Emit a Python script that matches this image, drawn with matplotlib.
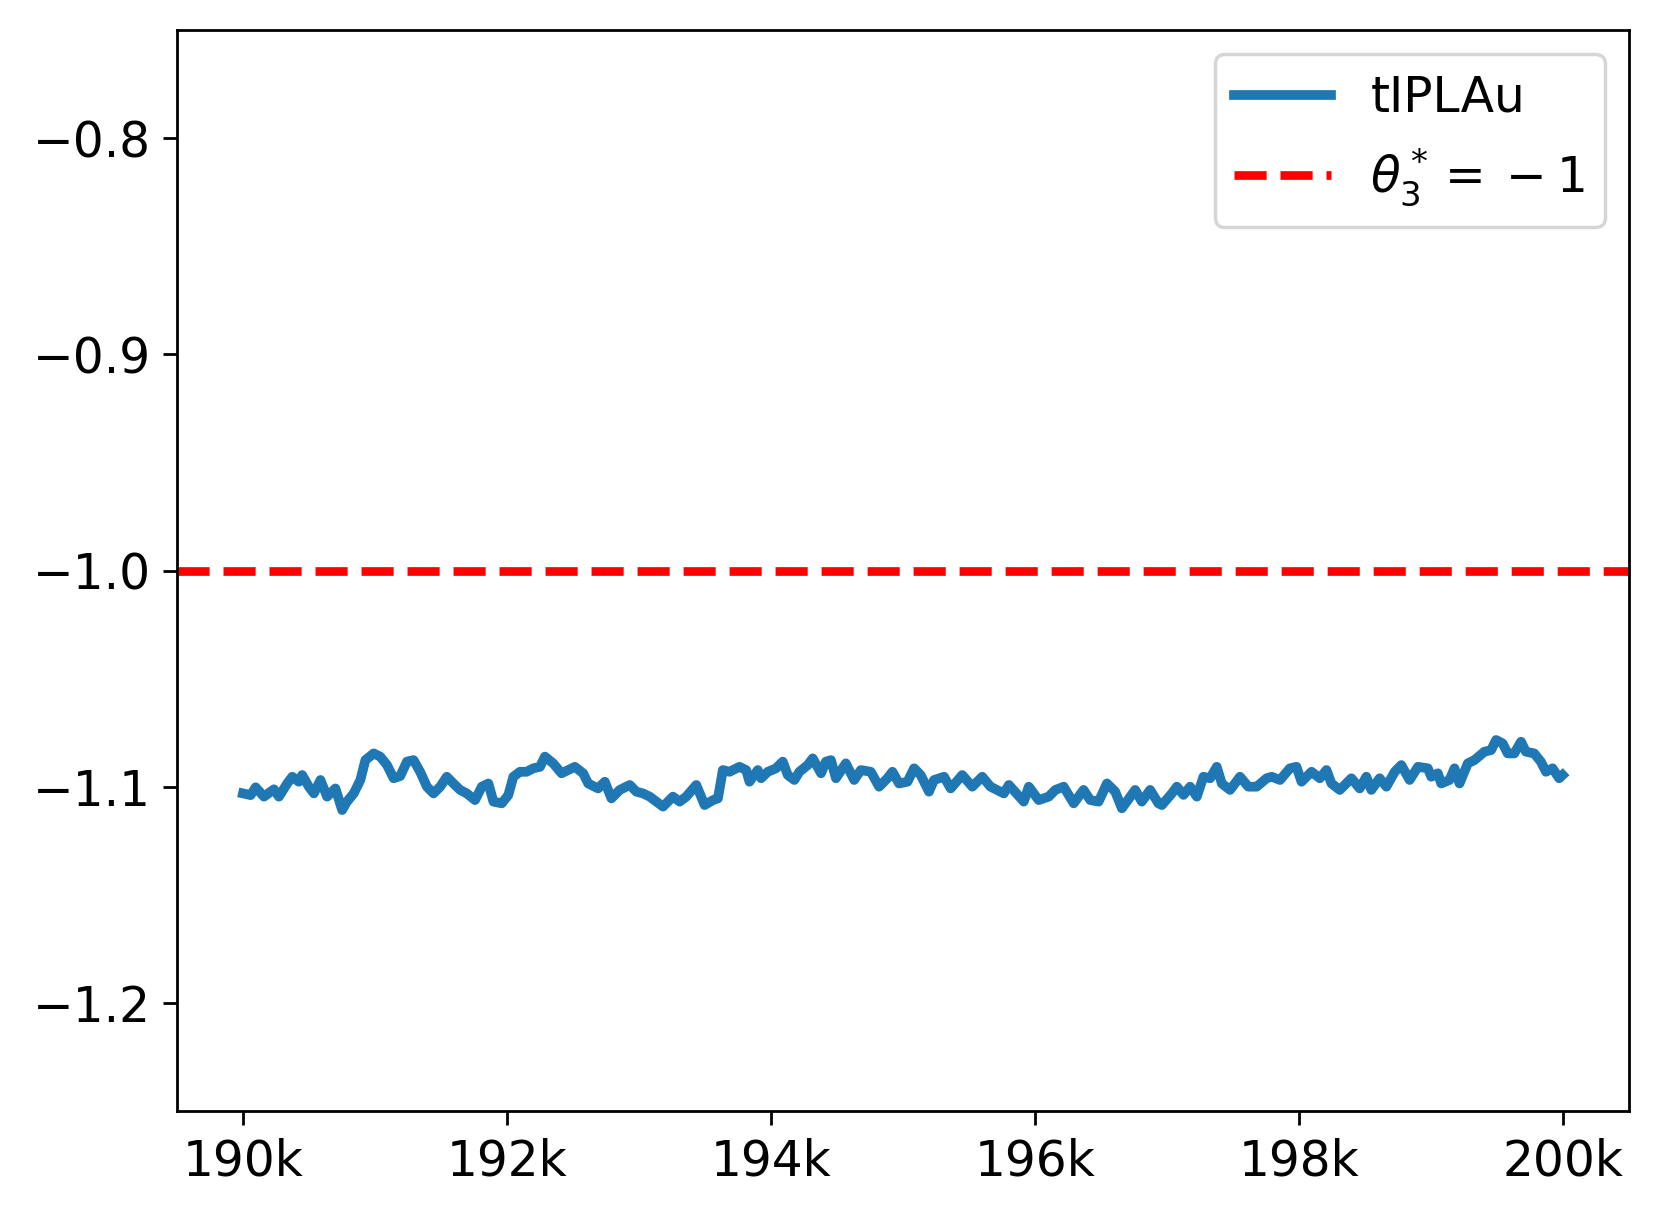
import numpy as np
import matplotlib.pyplot as plt
from matplotlib.ticker import FuncFormatter

# iteration (in thousands) and theta_3 estimate
steps_k = [190.000, 190.058, 190.096, 190.159, 190.234, 190.272, 190.335, 190.373, 190.423, 190.448,
           190.499, 190.537, 190.587, 190.637, 190.700, 190.751, 190.788, 190.839, 190.889, 190.927,
           190.990, 191.040, 191.091, 191.141, 191.191, 191.242, 191.292, 191.342, 191.393, 191.443,
           191.494, 191.544, 191.594, 191.645, 191.695, 191.758, 191.809, 191.859, 191.897, 191.960,
           192.010, 192.048, 192.098, 192.149, 192.199, 192.250, 192.287, 192.350, 192.413, 192.464,
           192.514, 192.577, 192.615, 192.690, 192.741, 192.791, 192.854, 192.930, 192.980, 193.030,
           193.081, 193.182, 193.257, 193.308, 193.358, 193.434,
           193.497, 193.560, 193.598, 193.635, 193.686, 193.761, 193.812, 193.837, 193.900, 193.925,
           193.976, 194.038, 194.089, 194.127, 194.177, 194.215, 194.278, 194.316, 194.379, 194.416,
           194.454, 194.492, 194.567, 194.630, 194.681, 194.756, 194.819, 194.882, 194.920, 194.970,
           195.034, 195.084, 195.134, 195.197, 195.235, 195.311, 195.361, 195.449, 195.525, 195.600,
           195.663, 195.764, 195.802, 195.915, 195.953, 196.028, 196.104, 196.154, 196.217, 196.293,
           196.368, 196.419, 196.482, 196.545, 196.608, 196.658, 196.759, 196.809, 196.872, 196.935,
           196.961, 197.037, 197.075, 197.125, 197.175, 197.226, 197.276, 197.327, 197.377, 197.415,
           197.478, 197.553, 197.616, 197.679, 197.755, 197.793, 197.856, 197.931, 197.981, 198.019,
           198.095, 198.158, 198.208, 198.246, 198.309, 198.397, 198.460, 198.510, 198.548, 198.611,
           198.662, 198.725, 198.775, 198.838, 198.901, 198.976, 199.002, 199.052, 199.077, 199.140,
           199.178, 199.216, 199.279, 199.329, 199.405, 199.455, 199.493, 199.543, 199.581, 199.631,
           199.682, 199.719, 199.782, 199.833, 199.871, 199.921, 199.971, 199.997]

theta3 = [-1.1031, -1.1039, -1.1003, -1.1046, -1.1012, -1.1046, -1.0985, -1.0954, -1.0977, -1.0946,
          -1.1000, -1.1031, -1.0969, -1.1046, -1.1008, -1.1108, -1.1069, -1.1031, -1.0969, -1.0877,
          -1.0846, -1.0861, -1.0900, -1.0961, -1.0951, -1.0884, -1.0877, -1.0931, -1.1000, -1.1031,
          -1.1000, -1.0954, -1.0985, -1.1015, -1.1031, -1.1062, -1.1000, -1.0985, -1.1069, -1.1077,
          -1.1039, -1.0954, -1.0931, -1.0931, -1.0915, -1.0908, -1.0861, -1.0892, -1.0938, -1.0923,
          -1.0908, -1.0938, -1.0985, -1.1008, -1.0977, -1.1054, -1.1015, -1.0992, -1.1023, -1.1031,
          -1.1046, -1.1092, -1.1046, -1.1069, -1.1046, -1.0992,
          -1.1085, -1.1062, -1.1054, -1.0923, -1.0931, -1.0908, -1.0923, -1.0977, -1.0923, -1.0961,
          -1.0931, -1.0915, -1.0884, -1.0946, -1.0969, -1.0931, -1.0900, -1.0869, -1.0938, -1.0884,
          -1.0877, -1.0961, -1.0892, -1.0969, -1.0923, -1.0931, -1.1000, -1.0961, -1.0931, -1.0985,
          -1.0977, -1.0915, -1.0946, -1.1023, -1.0969, -1.0954, -1.1008, -1.0946, -1.1000, -1.0954,
          -1.1000, -1.1031, -1.0992, -1.1069, -1.1000, -1.1062, -1.1046, -1.1015, -1.1000, -1.1077,
          -1.1015, -1.1062, -1.1069, -1.0985, -1.1023, -1.1100, -1.1015, -1.1069, -1.1015, -1.1077,
          -1.1085, -1.1031, -1.1000, -1.1038, -1.1000, -1.1046, -1.0954, -1.0961, -1.0908, -1.0985,
          -1.1015, -1.0954, -1.1000, -1.1000, -1.0961, -1.0954, -1.0969, -1.0915, -1.0908, -1.0977,
          -1.0931, -1.0961, -1.0923, -1.0985, -1.1015, -1.0961, -1.1008, -1.0954, -1.1015, -1.0961,
          -1.1000, -1.0931, -1.0900, -1.0969, -1.0908, -1.0915, -1.0954, -1.0938, -1.0985, -1.0969,
          -1.0915, -1.0985, -1.0892, -1.0877, -1.0838, -1.0831, -1.0784, -1.0800, -1.0846, -1.0846,
          -1.0792, -1.0838, -1.0846, -1.0885, -1.0931, -1.0915, -1.0961, -1.0946]

true_theta3 = -1

steps = np.array(steps_k) * 1000

fig = plt.figure(figsize=(1659 / 250, 1218 / 250), dpi=250)
ax = fig.add_axes([177 / 1659, 1 - 1111 / 1218, (1629 - 177) / 1659, (1111 - 30) / 1218])

ax.plot(steps, theta3, color='#1f77b4', linewidth=2.8, label='tIPLAu')
ax.axhline(true_theta3, color='red', linestyle='--', linewidth=2.5, label=r'$\theta_3^* =\:-\:1$')

ax.set_xlim(189500, 200500)
ax.set_ylim(-1.25, -0.75)
ax.set_yticks([-1.2, -1.1, -1.0, -0.9, -0.8])
ax.set_xticks(np.arange(190000, 200001, 2000))
ax.xaxis.set_major_formatter(FuncFormatter(lambda v, p: f'{int(v / 1000)}k'))
ax.tick_params(labelsize=14, length=4)
ax.legend(loc='upper right', fontsize=14)

fig.savefig('out.png', dpi=250)
